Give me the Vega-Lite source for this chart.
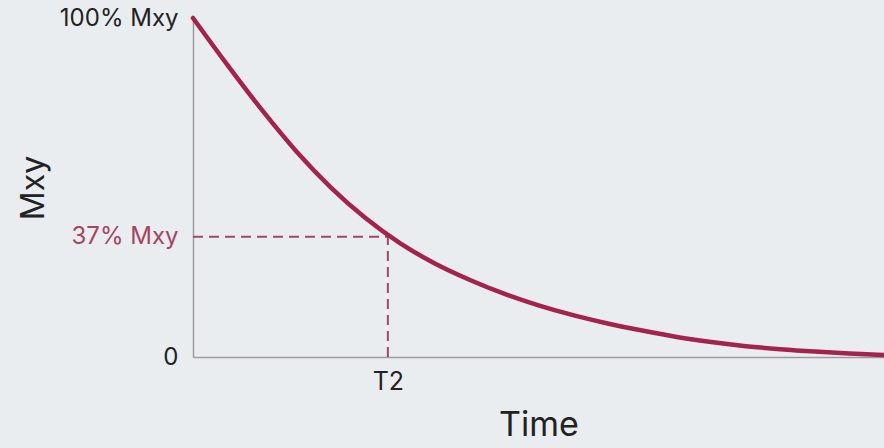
{
  "$schema": "https://vega.github.io/schema/vega-lite/v6.json",
  "autosize": {"type": "none"},
  "width": 691,
  "height": 339,
  "padding": {"left": 193, "top": 18, "right": 0, "bottom": 91},
  "background": "#eaedf0",
  "config": {
    "view": {"stroke": null},
    "font": "Inter",
    "axis": {"labelFont": "Inter", "titleFont": "Inter", "grid": false, "ticks": false, "domainColor": "#9a9c9f", "domainWidth": 1.5, "labelColor": "#222222", "titleColor": "#222222", "titleFontWeight": "normal", "labelOverlap": false, "labelFlush": false}
  },
  "datasets": {
    "curve": [
      {"t": 0, "m": 100},
      {"t": 5, "m": 86.1},
      {"t": 10, "m": 72.8},
      {"t": 15, "m": 60.55},
      {"t": 20, "m": 49.9},
      {"t": 25, "m": 40.9},
      {"t": 30, "m": 33.5},
      {"t": 35, "m": 27.6},
      {"t": 40, "m": 22.8},
      {"t": 45, "m": 18.7},
      {"t": 50, "m": 15.25},
      {"t": 55, "m": 12.35},
      {"t": 60, "m": 9.9},
      {"t": 65, "m": 7.8},
      {"t": 70, "m": 5.9},
      {"t": 75, "m": 4.4},
      {"t": 80, "m": 3.2},
      {"t": 85, "m": 2.3},
      {"t": 90, "m": 1.6},
      {"t": 95, "m": 1.05},
      {"t": 100, "m": 0.6}
    ],
    "guides": [
      {"x": 0, "x2": 28.2, "y": 35.5, "y2": 35.5},
      {"x": 28.2, "x2": 28.2, "y": 0, "y2": 35.5}
    ]
  },
  "layer": [
    {
      "data": {"name": "guides"},
      "mark": {"type": "rule", "color": "#9e4766", "strokeWidth": 2, "strokeDash": [10, 6]},
      "encoding": {
        "x": {"field": "x", "type": "quantitative", "scale": {"domain": [0, 100], "nice": false, "zero": false},
          "axis": {"values": [28.2], "labelExpr": "'T2'", "labelFontSize": 25, "labelPadding": 12, "title": "Time", "titleFontSize": 34, "titlePadding": 14}},
        "x2": {"field": "x2"},
        "y": {"field": "y", "type": "quantitative", "scale": {"domain": [0, 100], "nice": false, "zero": false},
          "axis": {"values": [0, 35.5, 100], "labelExpr": "datum.value == 0 ? '0' : (datum.value == 100 ? '100% Mxy' : '37% Mxy')", "labelFontSize": 24, "labelPadding": 15,
            "labelColor": {"condition": {"test": "datum.value > 10 && datum.value < 90", "value": "#a5455f"}, "value": "#222222"},
            "title": "Mxy", "titleFontSize": 32, "titlePadding": 9}},
        "y2": {"field": "y2"}
      }
    },
    {
      "data": {"name": "curve"},
      "mark": {"type": "line", "color": "#a3234b", "strokeWidth": 4.5, "interpolate": "monotone", "strokeCap": "round"},
      "encoding": {
        "x": {"field": "t", "type": "quantitative"},
        "y": {"field": "m", "type": "quantitative"}
      }
    }
  ]
}
